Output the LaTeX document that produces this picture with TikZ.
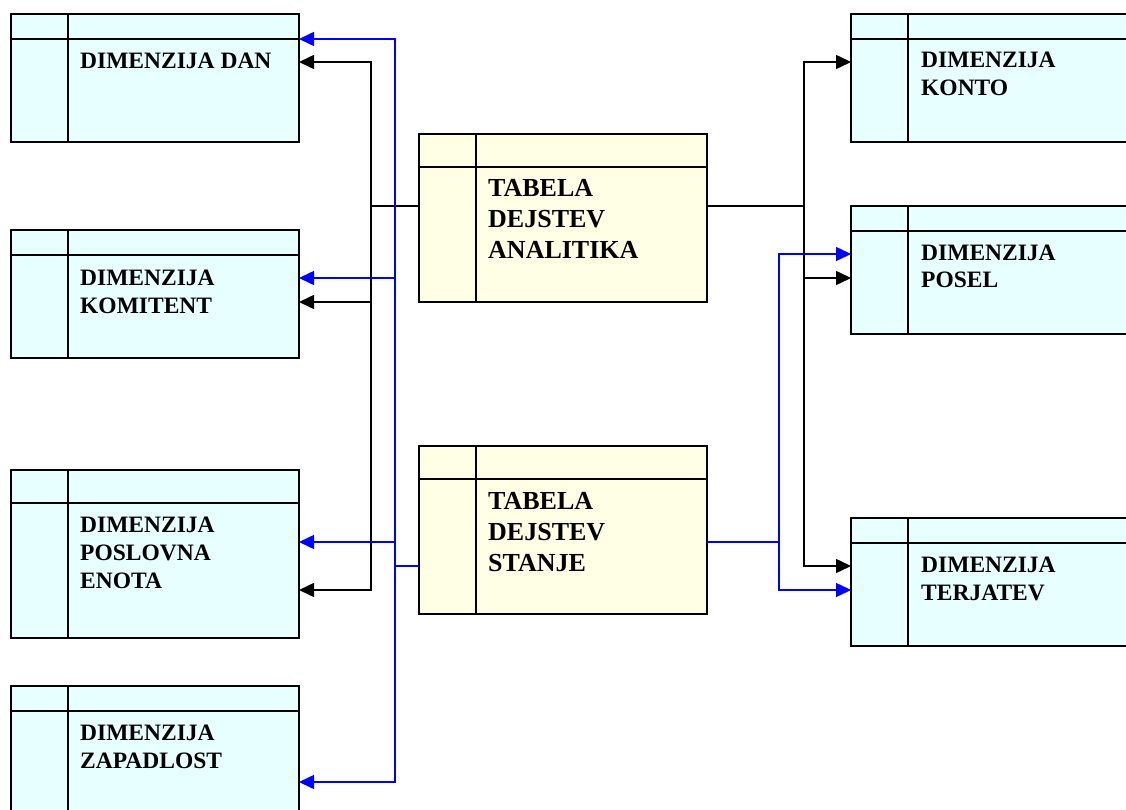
\documentclass[tikz,border=0pt]{standalone}
\usepackage{fontspec}
\setmainfont{Liberation Serif}
\usetikzlibrary{arrows.meta,calc}
\definecolor{dimfill}{RGB}{232,255,255}
\definecolor{factfill}{RGB}{255,255,230}
\definecolor{linkblue}{RGB}{0,0,255}
\tikzset{
  erbox/.style={draw=black, line width=1.8pt, rectangle, anchor=north west,
    minimum width=288pt, inner sep=0pt, outer sep=0pt},
  boxline/.style={draw=black, line width=1.8pt},
  lbl/.style={anchor=base west, inner sep=0pt, font=\bfseries},
  blk/.style={draw=black, line width=1.5pt},
  blu/.style={draw=linkblue, line width=1.5pt},
  arr/.style={-{Triangle[length=15pt,width=14pt]}},
}
\newcommand\erentity[6]{% name, x, y, height, header offset, fill
  \node[erbox, fill=#6, minimum height=#4pt] (#1) at (#2,#3) {};
  \draw[boxline] ($(#1.north west)+(0,#5)$) -- ($(#1.north east)+(0,#5)$);
  \draw[boxline] ($(#1.north west)+(57,0)$) -- ($(#1.south west)+(57,0)$);
}
\newcommand\dimtext[1]{\fontsize{23.5}{28}\selectfont\begin{tabular}[t]{@{}l@{}}#1\end{tabular}}
\newcommand\facttext[1]{\fontsize{26}{31}\selectfont\begin{tabular}[t]{@{}l@{}}#1\end{tabular}}
\begin{document}
\begin{tikzpicture}[x=1pt,y=-1pt]
\useasboundingbox (0,0) rectangle (1126,810);
\clip (0,0) rectangle (1126,810);
% entities
\erentity{dan}{11}{14}{128}{25}{dimfill}
\erentity{kom}{11}{230}{128}{25}{dimfill}
\erentity{pos}{11}{470}{168}{33}{dimfill}
\erentity{zap}{11}{686}{128}{25}{dimfill}
\erentity{anal}{419}{134}{168}{33}{factfill}
\erentity{stan}{419}{446}{168}{33}{factfill}
\erentity{kon}{851}{14}{128}{25}{dimfill}
\erentity{psl}{851}{206}{128}{25}{dimfill}
\erentity{ter}{851}{518}{128}{25}{dimfill}
% labels
\node[lbl] (tdan) at (80,69) {\dimtext{DIMENZIJA DAN}};
\node[lbl] (tkom) at (80,285) {\dimtext{DIMENZIJA\\KOMITENT}};
\node[lbl] (tpos) at (80,532) {\dimtext{DIMENZIJA\\POSLOVNA\\ENOTA}};
\node[lbl] (tzap) at (80,740) {\dimtext{DIMENZIJA\\ZAPADLOST}};
\node[lbl] (tanal) at (488,197) {\facttext{TABELA\\DEJSTEV\\ANALITIKA}};
\node[lbl] (tstan) at (488,509) {\facttext{TABELA\\DEJSTEV\\STANJE}};
\node[lbl] (tkon) at (921,68) {\dimtext{DIMENZIJA\\KONTO}};
\node[lbl] (tpsl) at (921,260) {\dimtext{DIMENZIJA\\POSEL}};
\node[lbl] (tter) at (921,572) {\dimtext{DIMENZIJA\\TERJATEV}};
% junctions
\coordinate (jl) at (371,206);
\coordinate (jlb) at (395,566);
\coordinate (jr) at (804,206);
\coordinate (jrb) at (779,542);
% left black (analitika)
\draw[blk] ($(anal.north west)+(0,72)$) -- (jl);
\draw[blk,arr] (jl) |- ($(dan.north east)+(0,48)$);
\draw[blk,arr] (jl) |- ($(kom.north east)+(0,72)$);
\draw[blk,arr] (jl) |- ($(pos.north east)+(0,120)$);
% left blue (stanje)
\draw[blu] ($(stan.north west)+(0,120)$) -- (jlb);
\draw[blu,arr] (jlb) |- ($(dan.north east)+(0,25)$);
\draw[blu,arr] (jlb) |- ($(kom.north east)+(0,48)$);
\draw[blu,arr] (jlb) |- ($(pos.north east)+(0,72)$);
\draw[blu,arr] (jlb) |- ($(zap.north east)+(0,96)$);
% right black (analitika)
\draw[blk] ($(anal.north east)+(0,72)$) -- (jr);
\draw[blk,arr] (jr) |- ($(kon.north west)+(0,48)$);
\draw[blk,arr] (jr) |- ($(psl.north west)+(0,72)$);
\draw[blk,arr] (jr) |- ($(ter.north west)+(0,48)$);
% right blue (stanje)
\draw[blu] ($(stan.north east)+(0,96)$) -- (jrb);
\draw[blu,arr] (jrb) |- ($(psl.north west)+(0,48)$);
\draw[blu,arr] (jrb) |- ($(ter.north west)+(0,72)$);
\end{tikzpicture}
\end{document}
